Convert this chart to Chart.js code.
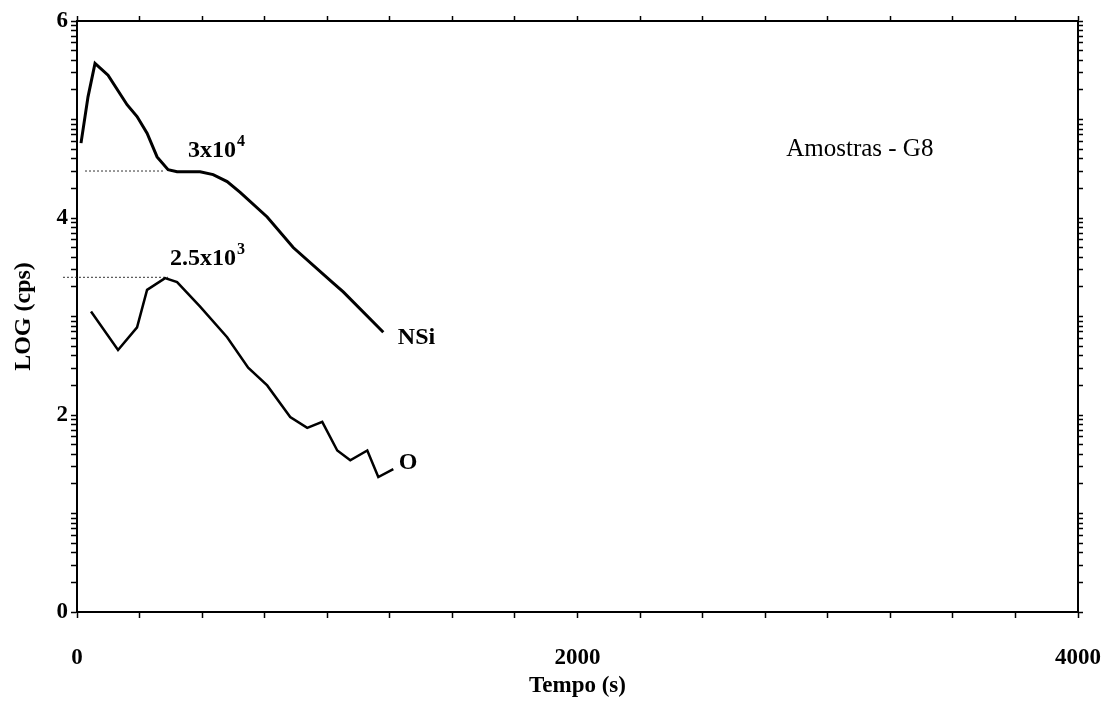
<!DOCTYPE html>
<html><head><meta charset="utf-8">
<script src="https://cdn.jsdelivr.net/npm/chart.js@4/dist/chart.umd.min.js"></script>
<style>html,body{margin:0;padding:0;background:#fff;} #wrap{width:1104px;height:705px;}</style>
</head><body><div id="wrap"><canvas id="c" width="1104" height="705"></canvas></div>
<script>
// ---- data ----
const nsiTime = [16, 44, 72, 124, 200, 240, 280, 320, 364, 400, 492, 544, 600, 652, 760, 864, 1024, 1064, 1224];
const nsiLog  = [4.76, 5.23, 5.57, 5.45, 5.15, 5.03, 4.86, 4.62, 4.49, 4.47, 4.47, 4.44, 4.37, 4.26, 4.01, 3.70, 3.34, 3.25, 2.84];
const oTime = [56, 164, 240, 280, 352, 400, 492, 600, 684, 760, 852, 920, 980, 1040, 1092, 1160, 1204, 1264];
const oLog  = [3.05, 2.66, 2.89, 3.27, 3.39, 3.35, 3.10, 2.79, 2.48, 2.30, 1.98, 1.87, 1.93, 1.64, 1.54, 1.64, 1.37, 1.45];
const refNSiTime = [32, 352];
const refNSiLog  = [4.477, 4.477];
const refOTime = [-56, 364];
const refOLog  = [3.398, 3.398];
const xTickLabels = [0, 2000, 4000];
const yTickLabels = [0, 2, 4, 6];
const xStep = 250;
const yDecades = [0, 1, 2, 3, 4, 5, 6];
// annotation texts anchored in data space (time, log)
const annoTexts = [
  {text: '3x10', sup: '4', t: 444, v: 4.62, bold: true},
  {text: '2.5x10', sup: '3', t: 372, v: 3.52, bold: true},
  {text: 'NSi', t: 1282, v: 2.72, bold: true},
  {text: 'O', t: 1286, v: 1.45, bold: true},
  {text: 'Amostras - G8', t: 2834, v: 4.63, bold: false}
];

const SERIF = '"Liberation Serif", "DejaVu Serif", serif';
const pts = (xs, ys) => xs.map((x, i) => ({x, y: ys[i]}));

function logTicks() {
  const out = [];
  yDecades.forEach(d => {
    out.push({value: d, major: true});
    if (d < 6) for (let k = 2; k <= 9; k++) out.push({value: d + Math.log10(k)});
  });
  return out;
}

const annoPlugin = {
  id: 'anno',
  afterDatasetsDraw(chart) {
    const {ctx, scales: {x, y}} = chart;
    ctx.save();
    ctx.fillStyle = '#000';
    ctx.textBaseline = 'alphabetic';
    annoTexts.forEach(a => {
      ctx.font = (a.bold ? 'bold 24px ' : '25px ') + SERIF;
      const px = x.getPixelForValue(a.t), py = y.getPixelForValue(a.v);
      ctx.fillText(a.text, px, py);
      if (a.sup) {
        const w = ctx.measureText(a.text).width;
        ctx.font = (a.bold ? 'bold ' : '') + '16px ' + SERIF;
        ctx.fillText(a.sup, px + w + 1, py - 11);
      }
    });
    ctx.restore();
  }
};

const axisFont = {family: SERIF, size: 23, weight: 'bold'};
const border = {display: true, color: '#000', width: 2};
const noPad = s => { s.paddingLeft = 0; s.paddingRight = 0; s.paddingTop = 0; s.paddingBottom = 0; };

new Chart(document.getElementById('c'), {
  type: 'line',
  data: {
    datasets: [
      {data: pts(nsiTime, nsiLog), borderColor: '#000', borderWidth: 3, pointRadius: 0, tension: 0},
      {data: pts(oTime, oLog), borderColor: '#000', borderWidth: 2.5, pointRadius: 0, tension: 0},
      {data: pts(refNSiTime, refNSiLog), borderColor: '#333', borderWidth: 1, borderDash: [2, 2], pointRadius: 0},
      {data: pts(refOTime, refOLog), borderColor: '#333', borderWidth: 1, borderDash: [2, 2], pointRadius: 0, clip: false}
    ]
  },
  options: {
    responsive: false,
    animation: false,
    devicePixelRatio: 1,
    layout: {padding: 0},
    plugins: {legend: {display: false}, tooltip: {enabled: false}},
    scales: {
      x: {
        type: 'linear', position: 'bottom', min: 0, max: 4000,
        ticks: {stepSize: xStep, autoSkip: false, maxRotation: 0, color: '#000', font: axisFont, padding: 26,
          callback: v => xTickLabels.includes(v) ? String(v) : ''},
        grid: {drawOnChartArea: false, tickLength: 6, tickColor: '#000', tickWidth: 1.5},
        border,
        title: {display: true, text: 'Tempo (s)', color: '#000', font: {family: SERIF, size: 23, weight: 'bold'}, padding: {top: 0, bottom: 5}},
        afterFit: s => { s.height = 93; noPad(s); }
      },
      x2: {
        type: 'linear', position: 'top', min: 0, max: 4000,
        ticks: {display: false, stepSize: xStep, autoSkip: false},
        grid: {drawOnChartArea: false, tickLength: 5, tickColor: '#000', tickWidth: 1.5},
        border,
        afterFit: s => { s.height = 21; noPad(s); }
      },
      y: {
        type: 'linear', position: 'left', min: 0, max: 6,
        afterBuildTicks: s => { s.ticks = logTicks(); },
        ticks: {autoSkip: false, color: '#000', font: axisFont, padding: 3,
          callback: v => yTickLabels.includes(v) ? String(v) : ''},
        grid: {drawOnChartArea: false, tickLength: 6, tickColor: '#000', tickWidth: 1.5},
        border,
        title: {display: true, text: 'LOG (cps)', color: '#000', font: {family: SERIF, size: 24, weight: 'bold'}, padding: {top: 9, bottom: 0}},
        afterFit: s => { s.width = 77; noPad(s); }
      },
      y2: {
        type: 'linear', position: 'right', min: 0, max: 6,
        afterBuildTicks: s => { s.ticks = logTicks(); },
        ticks: {display: false, autoSkip: false},
        grid: {drawOnChartArea: false, tickLength: 5, tickColor: '#000', tickWidth: 1.5},
        border,
        afterFit: s => { s.width = 26; noPad(s); }
      }
    }
  },
  plugins: [annoPlugin]
});
</script>
</body></html>
